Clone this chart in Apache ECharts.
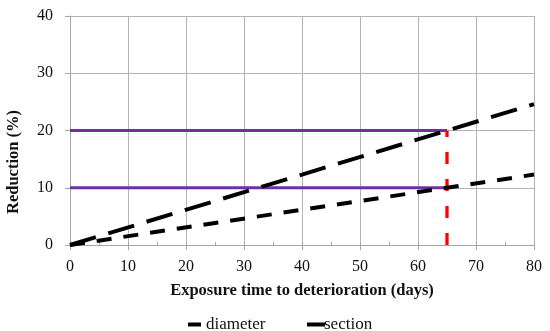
<!DOCTYPE html>
<html><head><meta charset="utf-8">
<script src="https://cdn.jsdelivr.net/npm/echarts@6/dist/echarts.min.js"></script>
<style>html,body{margin:0;padding:0;background:#fff}#c{width:550px;height:331px}</style>
</head><body><div id="c"></div>
<script>
var xTicks = [0, 10, 20, 30, 40, 50, 60, 70, 80];
var yTicks = [0, 10, 20, 30, 40];
var diameter = [[0, 0], [80, 12.3]];
var section = [[0, 0], [80, 24.6]];
var limit20 = [[0, 20], [65, 20]];
var limit10 = [[0, 10], [65, 10]];
var failure = [[65, 0], [65, 20]];

var FONT = 'Liberation Serif';
var TXT = '#111';
var chart = echarts.init(document.getElementById('c'));
chart.setOption({
  animation: false,
  grid: {left: 70, right: 16, top: 16, bottom: 86},
  graphic: [{
    type: 'text', x: 14, y: 162, rotation: Math.PI / 2,
    style: {text: 'Reduction (%)', fontFamily: FONT, fontWeight: 'bold', fontSize: 16.5,
            fill: TXT, align: 'center', verticalAlign: 'middle'}
  }],
  legend: [{
    data: [{name: 'diameter', icon: 'rect'}], left: 183, top: 311, itemWidth: 13, itemHeight: 4,
    itemStyle: {borderWidth: 0, color: '#000'},
    textStyle: {fontFamily: FONT, fontSize: 17, color: TXT, padding: [0, 0, 0, 0]}
  }, {
    data: [{name: 'section', icon: 'rect'}], left: 302, top: 311, itemWidth: 18, itemHeight: 4,
    itemStyle: {borderWidth: 0, color: '#000'},
    textStyle: {fontFamily: FONT, fontSize: 17, color: TXT, padding: [0, 0, 0, -6]}
  }],
  xAxis: [{
    type: 'value', min: xTicks[0], max: xTicks[xTicks.length - 1], interval: 10,
    name: 'Exposure time to deterioration (days)', nameLocation: 'middle', nameGap: 37,
    nameTextStyle: {fontFamily: FONT, fontWeight: 'bold', fontSize: 16.5, color: TXT},
    axisLine: {lineStyle: {color: '#a6a6a6', width: 1}},
    axisTick: {show: true, length: 5, lineStyle: {color: '#a6a6a6'}},
    axisLabel: {fontFamily: FONT, fontSize: 16, color: TXT, margin: 14},
    splitLine: {show: true, lineStyle: {color: '#b3b3b3', width: 1}}
  }, {
    type: 'value', min: 0, max: 80, interval: 5, position: 'bottom',
    axisLine: {show: false}, axisLabel: {show: false}, splitLine: {show: false},
    axisTick: {show: true, inside: true, length: 3, lineStyle: {color: '#a6a6a6'}}
  }],
  yAxis: {
    type: 'value', min: yTicks[0], max: yTicks[yTicks.length - 1], interval: 10,
    axisLine: {show: true, lineStyle: {color: '#a6a6a6', width: 1}},
    axisTick: {show: true, length: 5, lineStyle: {color: '#a6a6a6'}},
    axisLabel: {fontFamily: FONT, fontSize: 16, color: TXT, margin: 17},
    splitLine: {show: true, lineStyle: {color: '#b3b3b3', width: 1}}
  },
  series: [
    {name: 'l20', type: 'line', data: limit20, symbol: 'none', silent: true,
     lineStyle: {color: '#7030A0', width: 3}, z: 2},
    {name: 'l10', type: 'line', data: limit10, symbol: 'none', silent: true,
     lineStyle: {color: '#7030A0', width: 3}, z: 2},
    {name: 'fail', type: 'line', data: failure, symbol: 'none', silent: true,
     lineStyle: {color: '#ff0000', width: 3.3, type: [12, 15]}, z: 3},
    {name: 'diameter', type: 'line', data: diameter, symbol: 'none', color: '#000',
     itemStyle: {color: '#000'},
     lineStyle: {color: '#000', width: 4, type: [15, 12]}, z: 4},
    {name: 'section', type: 'line', data: section, symbol: 'none', color: '#000',
     itemStyle: {color: '#000'},
     lineStyle: {color: '#000', width: 4, type: [27, 13]}, z: 4}
  ]
});
</script></body></html>
